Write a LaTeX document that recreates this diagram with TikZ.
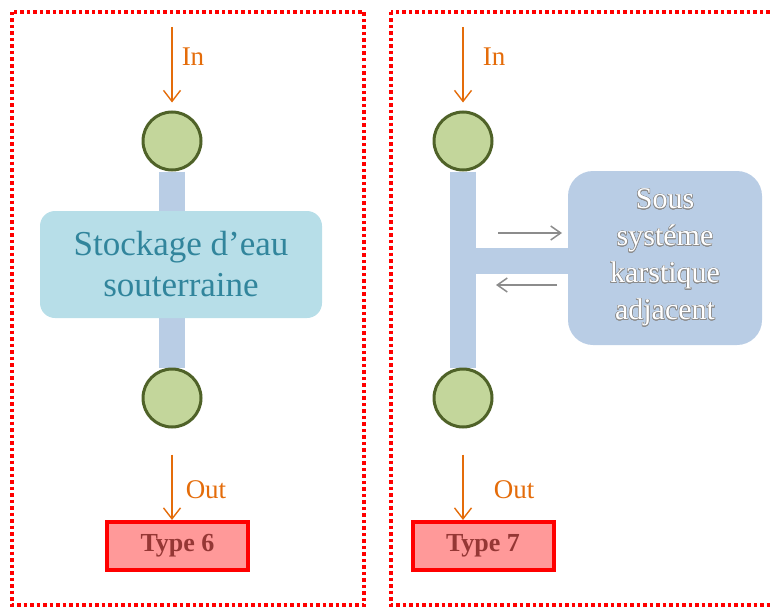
\documentclass[tikz,border=0pt]{standalone}
\usepackage{fontspec}
\setmainfont{Liberation Serif}
\usepackage{contour}
\contourlength{0.5pt}
\usepackage{tikz}
\usetikzlibrary{arrows.meta, positioning, backgrounds}
\definecolor{frameRed}{HTML}{FF0000}
\definecolor{juncFill}{HTML}{C3D69B}
\definecolor{juncLine}{HTML}{4F6228}
\definecolor{barBlue}{HTML}{B9CDE5}
\definecolor{storeFill}{HTML}{B7DEE8}
\definecolor{storeText}{HTML}{31859C}
\definecolor{flowOrange}{HTML}{E46C0A}
\definecolor{typeFill}{HTML}{FF9999}
\definecolor{typeText}{HTML}{953735}
\definecolor{exGray}{HTML}{8C8C8C}
\tikzset{
  frame/.style  ={draw=frameRed, line width=3.5pt, dash pattern=on 3.5pt off 3pt},
  junc/.style   ={circle, draw=juncLine, fill=juncFill, line width=3pt,
                  minimum size=58pt, inner sep=0pt},
  bar/.style    ={draw=barBlue, line width=26pt},
  store/.style  ={fill=storeFill, rounded corners=15pt, align=center,
                  minimum width=282pt, minimum height=107pt, text=storeText,
                  font=\fontsize{35}{41}\selectfont},
  adj/.style    ={fill=barBlue, rounded corners=25pt, align=center,
                  minimum width=194pt, minimum height=174pt, text=white,
                  font=\fontsize{30}{37}\selectfont},
  typebox/.style={draw=frameRed, fill=typeFill, line width=4pt, text=typeText,
                  minimum width=141pt, minimum height=48pt,
                  font=\fontsize{26}{30}\selectfont\bfseries},
  flow/.style   ={draw=flowOrange, line width=1.4pt,
                  -{Straight Barb[length=11pt, width=17pt]}},
  ex/.style     ={draw=exGray, line width=1.5pt,
                  -{Straight Barb[length=10pt, width=14pt]}},
  lbl/.style    ={text=flowOrange, font=\fontsize{27}{30}\selectfont, inner sep=0pt},
}
\begin{document}
\begin{tikzpicture}[x=1pt, y=-1pt]
  \useasboundingbox (0,0) rectangle (770,610);
  % frames
  \draw[frame] (12,12) rectangle (364,605);
  \draw[frame] (391,12) rectangle (790,605);

  % Type 6
  \node[junc]                 (top6)  at (172,141) {};
  \node[store]                (stock) at (181,264.5) {Stockage d'eau\\souterraine};
  \node[junc]                 (bot6)  at (172,398) {};
  \node[typebox]              (type6) at (177.5,546) {Type 6};
  \coordinate (in6) at (172,27);
  \node[lbl] at (193,57)  {In};
  \node[lbl] at (206,490) {Out};
  \begin{scope}[on background layer]
    \draw[bar] (top6) -- (bot6);
  \end{scope}
  \draw[flow, shorten >=8pt] (in6) -- (top6);
  \draw[flow, shorten <=26pt] (bot6) -- (type6.north -| bot6);

  % Type 7
  \node[junc]                 (top7)  at (463,141) {};
  \node[junc]                 (bot7)  at (463,398) {};
  \node[adj]                  (karst) at (665,258)
    {\contour{exGray}{Sous}\\\contour{exGray}{systéme}\\\contour{exGray}{karstique}\\\contour{exGray}{adjacent}};
  \node[typebox]              (type7) at (483,546) {Type 7};
  \coordinate (in7)  at (463,27);
  \coordinate (tee7) at (463,260.5);
  \coordinate (a1)   at (498,233);
  \coordinate (a2)   at (562,233);
  \coordinate (b1)   at (557,285);
  \coordinate (b2)   at (496,285);
  \node[lbl] at (494,57)  {In};
  \node[lbl] at (514,490) {Out};
  \begin{scope}[on background layer]
    \draw[bar] (top7) -- (bot7);
    \draw[bar] (tee7) -- (karst.west |- tee7);
  \end{scope}
  \draw[ex] (a1) -- (a2);
  \draw[ex] (b1) -- (b2);
  \draw[flow, shorten >=8pt] (in7) -- (top7);
  \draw[flow, shorten <=26pt] (bot7) -- (type7.north -| bot7);
\end{tikzpicture}
\end{document}
